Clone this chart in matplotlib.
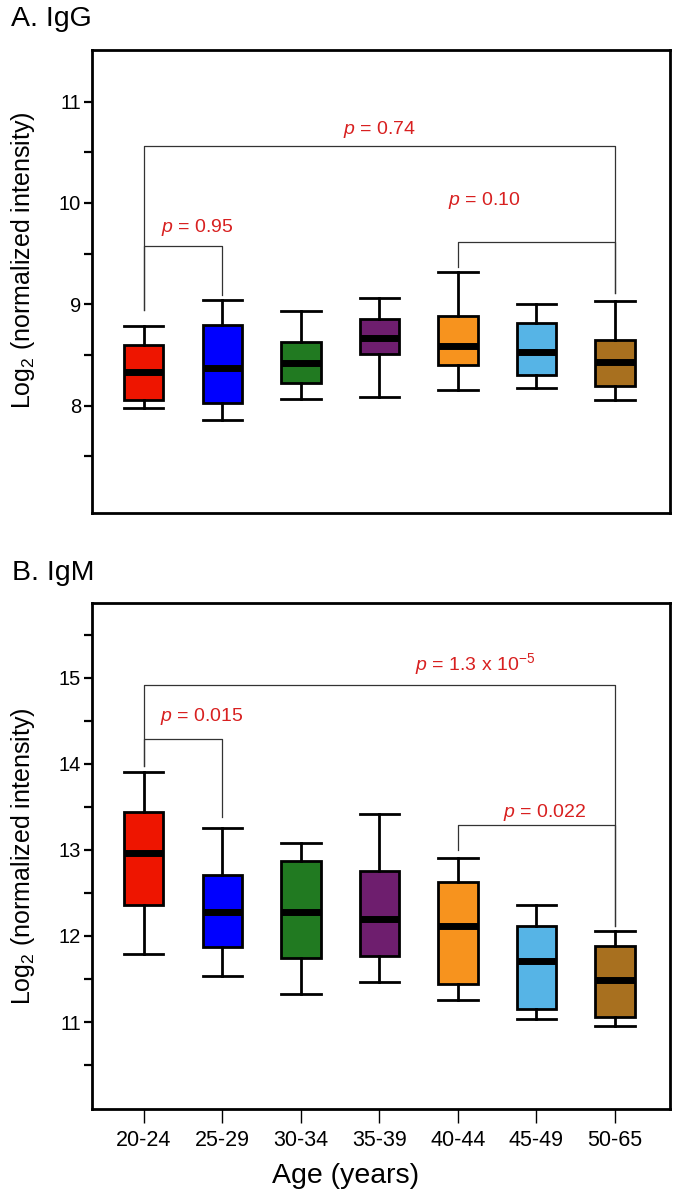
import matplotlib
matplotlib.use("Agg")
import matplotlib.pyplot as plt
import numpy as np

plt.rcParams['font.family'] = ['Liberation Sans', 'DejaVu Sans']
plt.rcParams['mathtext.fontset'] = 'custom'
plt.rcParams['mathtext.rm'] = 'Liberation Sans'
plt.rcParams['mathtext.it'] = 'Liberation Sans:italic'

# age groups and box colours
ages = ['20-24', '25-29', '30-34', '35-39', '40-44', '45-49', '50-65']
colors = ['#EE1500', '#0000FF', '#217A21', '#6E1E6E', '#F7931E', '#56B4E6', '#A8701F']

# IgG box stats
igg_whislo = [7.98, 7.86, 8.07, 8.09, 8.15, 8.17, 8.06]
igg_q1 = [8.06, 8.03, 8.22, 8.51, 8.40, 8.30, 8.19]
igg_med = [8.33, 8.37, 8.42, 8.67, 8.59, 8.53, 8.43]
igg_q3 = [8.60, 8.80, 8.63, 8.85, 8.88, 8.82, 8.65]
igg_whishi = [8.79, 9.04, 8.93, 9.06, 9.32, 9.00, 9.03]

# IgM box stats
igm_whislo = [11.79, 11.54, 11.33, 11.47, 11.26, 11.04, 10.95]
igm_q1 = [12.36, 11.87, 11.74, 11.77, 11.44, 11.15, 11.06]
igm_med = [12.96, 12.28, 12.28, 12.20, 12.12, 11.71, 11.49]
igm_q3 = [13.44, 12.71, 12.87, 12.75, 12.63, 12.12, 11.88]
igm_whishi = [13.91, 13.26, 13.08, 13.42, 12.91, 12.36, 12.06]

# significance brackets: (group1, group2, bar height, leg1 end, leg2 end)
igg_brackets = [(0, 6, 10.56, 8.94, 9.11), (0, 1, 9.58, 8.94, 9.09), (4, 6, 9.61, 9.37, 9.11)]
igg_ptext = [(3.0, 10.72, '$\\mathit{p}$ = 0.74'), (0.675, 9.76, '$\\mathit{p}$ = 0.95'),
             (4.34, 10.02, '$\\mathit{p}$ = 0.10')]
igm_brackets = [(0, 6, 14.92, 13.98, 12.12), (0, 1, 14.29, 13.98, 13.38), (4, 6, 13.29, 13.0, 12.12)]
igm_ptext = [(4.22, 15.16, '$\\mathit{p}$ = 1.3 x 10$^{-5}$'), (0.74, 14.55, '$\\mathit{p}$ = 0.015'),
             (5.1, 13.44, '$\\mathit{p}$ = 0.022')]


def draw_panel(ax, lo, q1, med, q3, hi, brackets, ptexts, ylim, yticks, yminor, ylab_y):
    stats = []
    for i in range(len(ages)):
        stats.append({'whislo': lo[i], 'q1': q1[i], 'med': med[i], 'q3': q3[i],
                      'whishi': hi[i], 'fliers': []})
    pos = np.arange(len(ages))
    bp = ax.bxp(stats, positions=pos, widths=0.5, patch_artist=True, showfliers=False,
                boxprops=dict(linewidth=2.0, edgecolor='black'),
                medianprops=dict(color='black', linewidth=5.0, solid_capstyle='butt'),
                whiskerprops=dict(color='black', linewidth=2.0),
                capprops=dict(color='black', linewidth=2.0), capwidths=0.5)
    for patch, c in zip(bp['boxes'], colors):
        patch.set_facecolor(c)
    for x1, x2, yb, y1, y2 in brackets:
        ax.plot([x1, x1, x2, x2], [y1, yb, yb, y2], color='#333333', linewidth=0.9, zorder=1)
    for tx, ty, s in ptexts:
        ax.text(tx, ty, s, color='#D82020', fontsize=14, ha='center', va='center')
    ax.set_xlim(-0.66, 6.7)
    ax.set_ylim(*ylim)
    ax.set_yticks(yticks)
    ax.set_yticks(yminor, minor=True)
    ax.tick_params(axis='y', which='both', direction='out', length=6, width=1.6, labelsize=14.5, pad=2)
    for sp in ax.spines.values():
        sp.set_linewidth(2.0)
    ax.set_ylabel('Log$_2$ (normalized intensity)', fontsize=18)
    ax.yaxis.set_label_coords(-0.095, ylab_y)


fig = plt.figure(figsize=(6.75, 11.89), dpi=100)
ax1 = fig.add_axes([0.1363, 0.5685, 0.8563, 0.3895])
ax2 = fig.add_axes([0.1363, 0.0673, 0.8563, 0.4256])

draw_panel(ax1, igg_whislo, igg_q1, igg_med, igg_q3, igg_whishi, igg_brackets, igg_ptext,
           (6.94, 11.51), [8, 9, 10, 11], [7.5, 8.5, 9.5, 10.5], 0.545)
ax1.set_xticks([])

draw_panel(ax2, igm_whislo, igm_q1, igm_med, igm_q3, igm_whishi, igm_brackets, igm_ptext,
           (9.99, 15.87), [11, 12, 13, 14, 15], [10.5, 11.5, 12.5, 13.5, 14.5, 15.5], 0.5)
ax2.set_xticks(np.arange(len(ages)))
ax2.set_xticklabels(ages)
ax2.tick_params(axis='x', direction='out', length=10, width=1.0, labelsize=15.5, pad=5)
ax2.set_xlabel('Age (years)', fontsize=20.5)
ax2.xaxis.set_label_coords(0.438, -0.107)

fig.text(0.016, 1 - 19 / 1189, 'A. IgG', fontsize=20.5, va='center', ha='left')
fig.text(0.018, 1 - 573 / 1189, 'B. IgM', fontsize=20.5, va='center', ha='left')

fig.savefig('out.png', dpi=100)
